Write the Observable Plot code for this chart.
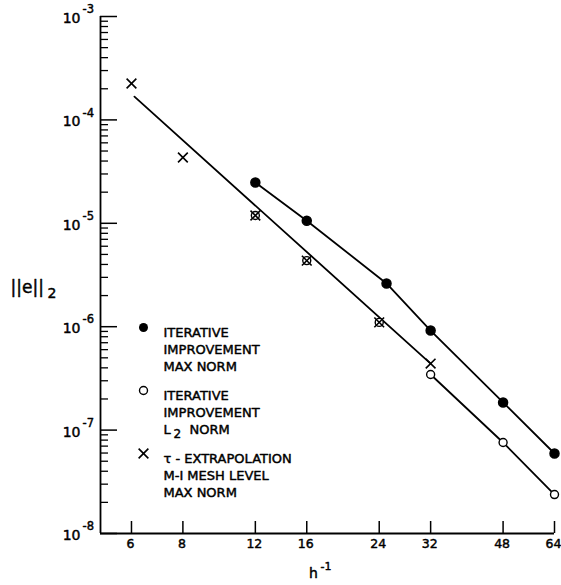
<!DOCTYPE html>
<html><head><meta charset="utf-8">
<script src="https://cdn.jsdelivr.net/npm/d3@7"></script>
<script src="https://cdn.jsdelivr.net/npm/@observablehq/plot@0.6"></script>
<style>body{margin:0;background:#fff} svg{display:block}</style>
</head><body><div id="chart"></div>
<script>
// τ-extrapolation, M-1 mesh level, max norm (crosses)
const tauH = [6, 8, 12, 16, 24, 32];
const tauErr = [2.25e-4, 4.33e-5, 1.19e-5, 4.36e-6, 1.10e-6, 4.40e-7];
// fitted straight line through the τ-extrapolation results
const tauFitH = [6.1, 32];
const tauFitErr = [1.68e-4, 4.40e-7];
// iterative improvement, L2 norm (open circles)
const l2H = [12, 16, 24, 32, 48, 64];
const l2Err = [1.19e-5, 4.36e-6, 1.10e-6, 3.45e-7, 7.59e-8, 2.38e-8];
// iterative improvement, max norm (filled circles)
const maxH = [12, 16, 25, 32, 48, 64];
const maxErr = [2.48e-5, 1.06e-5, 2.62e-6, 9.18e-7, 1.85e-7, 5.94e-8];

const xTicks = [6, 8, 12, 16, 24, 32, 48, 64];
const xTickLabels = ["6", "8", "12", "16", "24", "32", "48", "64"];
const yMajor = [1e-3, 1e-4, 1e-5, 1e-6, 1e-7, 1e-8];
const yExpLabels = ["-3", "-4", "-5", "-6", "-7", "-8"];
const yMinorMult = [2, 3, 4, 5, 6, 7, 8, 9];
const xDomain = [5.045, 64];
const yDomain = [1e-8, 1e-3];

const legendGroups = [
  ["ITERATIVE", "IMPROVEMENT", "MAX NORM"],
  ["ITERATIVE", "IMPROVEMENT", "L|NORM"],
  ["τ - EXTRAPOLATION", "M-I MESH LEVEL", "MAX NORM"]
];
const legendSymbols = ["filled", "open", "cross"];

const W = 561, H = 585, mL = 100, mT = 16, mR = 7, mB = 52;
const plotW = W - mL - mR, plotH = H - mT - mB;
const font = "'DejaVu Sans', sans-serif";
const pts = (xs, ys) => xs.map((x, i) => ({x, y: ys[i]}));
const ink = {fill: "black", stroke: "black", strokeWidth: 0.45};

const yMinor = [];
for (const d of yMajor.slice(1)) for (const m of yMinorMult) yMinor.push(d * m);

const marks = [
  // axis lines
  Plot.ruleX([xDomain[0]], {stroke: "black", strokeWidth: 1.8}),
  Plot.ruleY([yDomain[0]], {stroke: "black", strokeWidth: 1.8}),
  // y ticks (inward)
  Plot.tickY(yMajor, {y: d => d, insetRight: plotW - 17, stroke: "black", strokeWidth: 1.5}),
  Plot.tickY(yMinor, {y: d => d, insetRight: plotW - 8, stroke: "black", strokeWidth: 1.3}),
  // x ticks (inward)
  Plot.tickX(xTicks, {x: d => d, insetTop: plotH - 12, stroke: "black", strokeWidth: 1.5}),
  // y tick labels 10^n
  Plot.text(yMajor, {y: d => d, text: () => "10", frameAnchor: "left", dx: -20, dy: 2, textAnchor: "end", fontSize: 14, ...ink}),
  Plot.text(yMajor, {y: d => d, text: (d, i) => yExpLabels[i], frameAnchor: "left", dx: -18, dy: -7, textAnchor: "start", fontSize: 11.5, ...ink}),
  // x tick labels
  Plot.text(xTicks, {x: d => d, text: (d, i) => xTickLabels[i], frameAnchor: "bottom", dy: 14, dx: -1, fontSize: 12.5, ...ink}),
  // axis titles
  Plot.text(["h"], {frameAnchor: "top-left", dx: 213, dy: 552, textAnchor: "middle", fontSize: 14, ...ink}),
  Plot.text(["-1"], {frameAnchor: "top-left", dx: 220, dy: 546, textAnchor: "start", fontSize: 11, letterSpacing: 2, ...ink}),
  Plot.text(["||e||"], {frameAnchor: "top-left", dx: -90, dy: 264, textAnchor: "start", fontSize: 17, letterSpacing: -0.5, ...ink}),
  Plot.text(["2"], {frameAnchor: "top-left", dx: -53, dy: 272, textAnchor: "start", fontSize: 14, ...ink}),
  // lines
  Plot.line(pts(tauFitH, tauFitErr), {x: "x", y: "y", stroke: "black", strokeWidth: 1.8}),
  Plot.line(pts(l2H, l2Err).slice(3), {x: "x", y: "y", stroke: "black", strokeWidth: 1.8}),
  Plot.line(pts(maxH, maxErr), {x: "x", y: "y", stroke: "black", strokeWidth: 1.8}),
  // markers
  Plot.dot(pts(l2H, l2Err), {x: "x", y: "y", r: 4, fill: "white", stroke: "black", strokeWidth: 1.4}),
  Plot.dot(pts(tauH, tauErr), {x: "x", y: "y", symbol: "times", r: 4.5, stroke: "black", strokeWidth: 1.6}),
  Plot.dot(pts(maxH, maxErr), {x: "x", y: "y", r: 4.5, fill: "black", stroke: "black"})
];

// legend
legendGroups.forEach((rows, g) => {
  const y0 = 311 + g * 63;
  const sym = legendSymbols[g];
  if (sym === "filled") marks.push(Plot.dot([0], {frameAnchor: "top-left", dx: 43, dy: y0, r: 4.5, fill: "black"}));
  if (sym === "open") marks.push(Plot.dot([0], {frameAnchor: "top-left", dx: 43, dy: y0, r: 4, fill: "white", stroke: "black", strokeWidth: 1.4}));
  if (sym === "cross") marks.push(Plot.dot([0], {frameAnchor: "top-left", dx: 43, dy: y0, r: 4.5, symbol: "times", stroke: "black", strokeWidth: 1.6}));
  rows.forEach((label, r) => {
    const dy = y0 + r * 17;
    const opts = {frameAnchor: "top-left", textAnchor: "start", fontSize: 13, letterSpacing: 1.2, ...ink};
    if (label.includes("|")) {
      const [a, b] = label.split("|");
      marks.push(Plot.text([a], {...opts, dx: 63, dy}));
      marks.push(Plot.text(["2"], {...opts, dx: 73, dy: dy + 5, fontSize: 12}));
      marks.push(Plot.text([b], {...opts, dx: 89, dy}));
    } else {
      marks.push(Plot.text([label], {...opts, dx: 63, dy}));
    }
  });
});

const chart = Plot.plot({
  width: W, height: H,
  marginLeft: mL, marginRight: mR, marginTop: mT, marginBottom: mB,
  style: {fontFamily: font, background: "white", color: "black"},
  x: {type: "log", domain: xDomain, axis: null},
  y: {type: "log", domain: yDomain, axis: null},
  marks
});
document.getElementById("chart").appendChild(chart);
</script>
</body></html>
